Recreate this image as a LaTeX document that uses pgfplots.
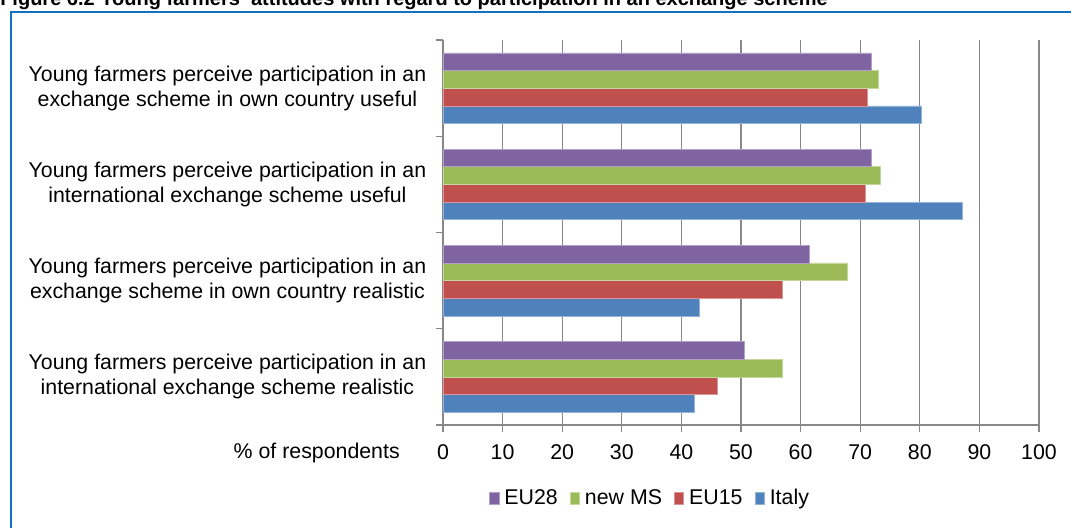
\documentclass[border=0pt]{standalone}
\usepackage{pgfplots}
\pgfplotsset{compat=1.18}
\usepackage{fontspec}
\setmainfont{Liberation Sans}
\definecolor{cEU}{HTML}{8064A2}
\definecolor{cNew}{HTML}{9BBB59}
\definecolor{cEUf}{HTML}{C0504D}
\definecolor{cIt}{HTML}{4F81BD}
\definecolor{frameblue}{RGB}{20,112,192}
\definecolor{gridgray}{HTML}{888888}
\begin{document}
\begin{tikzpicture}
\useasboundingbox (0,0) rectangle (803.25pt,396pt);
\node[anchor=base west, inner sep=0pt, font=\fontsize{15pt}{17pt}\selectfont\bfseries] at (0pt,391.5pt) {Figure 6.2 Young farmers' attitudes with regard to participation in an exchange scheme};
\draw[frameblue, line width=1.5pt] (8.25pt,-5pt) -- (8.25pt,387pt) -- (810pt,387pt);
\begin{axis}[
  at={(332.25pt,77.25pt)}, anchor=south west,
  width=447pt, height=288.75pt, scale only axis,
  xbar=0pt, bar width=13.25pt,
  xmin=0, xmax=100, ymin=-0.5, ymax=3.5,
  xtick={0,10,...,100},
  ytick={0,1,2,3},
  yticklabels={{Young farmers perceive participation in an\\international exchange scheme realistic},
               {Young farmers perceive participation in an\\exchange scheme in own country realistic},
               {Young farmers perceive participation in an\\international exchange scheme useful},
               {Young farmers perceive participation in an\\exchange scheme in own country useful}},
  yticklabel style={align=center, font=\fontsize{16pt}{18.75pt}\selectfont, xshift=-4pt},
  xticklabel style={font=\fontsize{16pt}{18pt}\selectfont, yshift=-6pt},
  /pgf/number format/assume math mode=true,
  axis lines=left, axis line style={-, gridgray, line width=0.9pt},
  y tick style={draw=none},
  x tick style={gridgray, line width=0.9pt},
  tick align=outside, major tick length=5pt,
  extra y ticks={-0.5,0.5,1.5,2.5,3.5},
  extra y tick labels={},
  extra y tick style={grid=none, y tick style={draw=gridgray, line width=0.9pt}, major tick length=5pt},
  xmajorgrids, major grid style={gridgray, line width=0.9pt},
  reverse legend,
  legend style={at={(0.348,-0.1896)}, anchor=center, draw=none, legend columns=-1,
     font=\fontsize{16pt}{18pt}\selectfont, column sep=2pt,
     /tikz/every even column/.append style={column sep=7pt}},
  legend image code/.code={\fill[#1] (0pt,-4.5pt) rectangle (7pt,4.5pt);},
]
\addplot[fill=cIt, draw=cIt!60!white, line width=0.4pt] coordinates {(42.2,0) (43.0,1) (87.2,2) (80.3,3)};
\addplot[fill=cEUf, draw=cEUf!60!white, line width=0.4pt] coordinates {(46.1,0) (57.0,1) (70.9,2) (71.2,3)};
\addplot[fill=cNew, draw=cNew!60!white, line width=0.4pt] coordinates {(57.0,0) (67.8,1) (73.4,2) (73.0,3)};
\addplot[fill=cEU, draw=cEU!60!white, line width=0.4pt] coordinates {(50.5,0) (61.4,1) (71.9,2) (71.9,3)};
\legend{Italy,EU15,new MS,EU28}
\end{axis}
\node[anchor=base east, inner sep=0pt, font=\fontsize{16pt}{18pt}\selectfont] at (300pt,52pt) {\% of respondents};
\end{tikzpicture}
\end{document}
